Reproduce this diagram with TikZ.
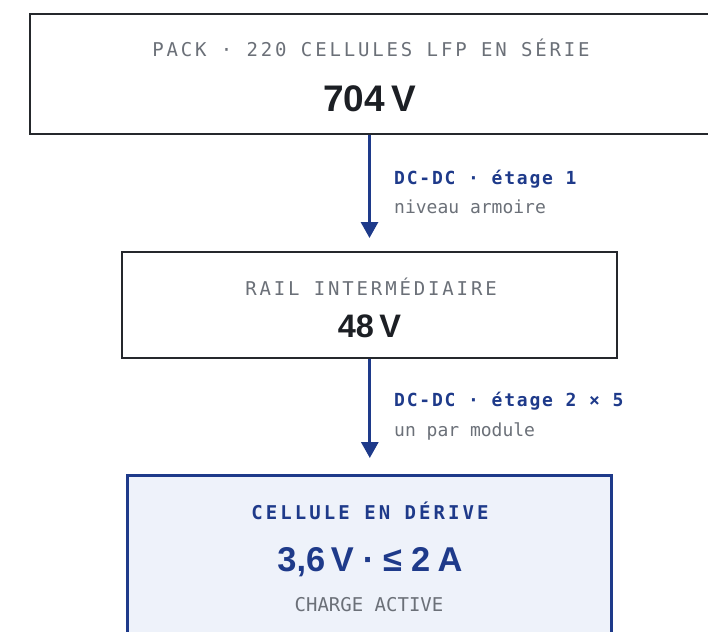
\documentclass[tikz,border=0pt]{standalone}
\usepackage{fontspec}
\setmainfont{Liberation Sans}
\setmonofont{DejaVu Sans Mono}
\newfontfamily\capsmono[LetterSpace=15]{DejaVu Sans Mono}
\newfontfamily\cellmono[LetterSpace=16]{DejaVu Sans Mono}
\newfontfamily\labmono[LetterSpace=10]{DejaVu Sans Mono}
\usetikzlibrary{arrows.meta, positioning}
\definecolor{sink}{HTML}{1C1F24}
\definecolor{sframe}{HTML}{25282C}
\definecolor{sgrey}{HTML}{6B7078}
\definecolor{snavy}{HTML}{1E3A8A}
\definecolor{navysoft}{HTML}{EEF2FA}
\tikzset{
  stage/.style={
    draw=#1, fill=white, line width=2pt, inner sep=0pt
  },
  stage/.default=sframe,
  captxt/.style={anchor=base, text=#1, font=\fontsize{19}{21}\selectfont\capsmono},
  captxt/.default=sgrey,
  valtxt/.style={anchor=base, text=#1, font=\fontsize{37}{40}\selectfont\bfseries},
  valtxt/.default=sink,
  lab/.style={anchor=base west, inner sep=0pt, text=#1, font=\fontsize{18}{20}\selectfont\ttfamily},
  flowline/.style={line width=3pt, draw=snavy, -{Triangle[width=17pt,length=16pt]}}
}
\begin{document}
\begin{tikzpicture}[x=1pt,y=-1pt]
  \useasboundingbox (0,0) rectangle (708,631);
  \clip (0,0) rectangle (708,631);
  % boxes
  \node[stage,minimum width=679pt,minimum height=120pt] (pack) at (369.5,74) {};
  \node[stage,minimum width=495pt,minimum height=106pt] (rail) at (369.8,304.5) {};
  \node[stage=snavy,fill=navysoft,line width=3pt,minimum width=484pt,minimum height=170pt] (cell) at (369,560) {};
  % texts
  \node[captxt] (packcap) at (371,57) {PACK · 220 CELLULES LFP EN SÉRIE};
  \node[valtxt] (packval) at (369.5,111.7) {704\,V};
  \node[captxt] (railcap) at (371,295) {RAIL INTERMÉDIAIRE};
  \node[valtxt,font=\fontsize{32.5}{36}\selectfont\bfseries] (railval) at (369.5,337.3) {48\,V};
  \node[captxt=snavy,font=\fontsize{19}{21}\selectfont\cellmono\bfseries] (cellcap) at (370,519) {CELLULE EN DÉRIVE};
  \node[valtxt=snavy,font=\fontsize{34.4}{38}\selectfont\bfseries] (cellval) at (370,571.7)
    {3,6\,V\hspace{0.26em}·\hspace{0.26em}≤\hspace{0.26em}2\hspace{0.22em}A};
  \node[captxt,font=\fontsize{19}{21}\selectfont\ttfamily] (cellnote) at (369,611.5) {CHARGE ACTIVE};
  % converters
  \draw[flowline,shorten >=12.5pt] (pack.south) -- (pack.south |- rail.north);
  \draw[flowline,shorten >=15.5pt] (rail.south) -- (rail.south |- cell.north);
  \node[lab=snavy,font=\fontsize{18}{20}\selectfont\labmono\bfseries] (dc1) at (394,184) {DC-DC · étage 1};
  \node[lab=sgrey] (dc1note) at (394,213.3) {niveau armoire};
  \node[lab=snavy,font=\fontsize{18}{20}\selectfont\labmono\bfseries] (dc2) at (394,406.7) {DC-DC · étage 2 × 5};
  \node[lab=sgrey] (dc2note) at (394,436.5) {un par module};
\end{tikzpicture}
\end{document}
